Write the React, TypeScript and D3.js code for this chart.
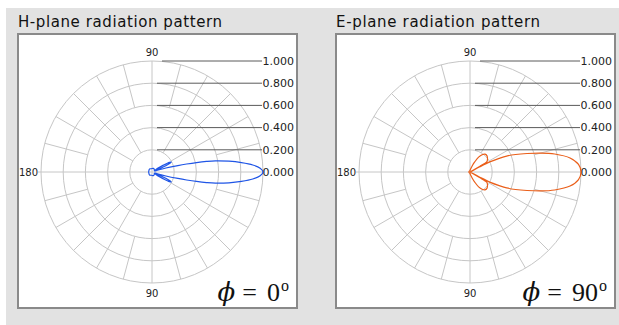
import * as d3 from 'd3';
import React from 'react';

// radial rings (normalised gain) and their labels
const ringValues = [0.2, 0.4, 0.6, 0.8, 1.0];
const ringLabels = ['0.200', '0.400', '0.600', '0.800', '1.000'];

// grid spokes: angle in degrees (ccw from 0) and the ring they start from
const spokeAngles = [15, 30, 45, 60, 75, 105, 120, 135, 150, 165, 195, 210, 225, 240, 255, 285, 300, 315, 330, 345];
const spokeStarts = [0.6, 0.2, 0.4, 0.2, 0.6, 0.6, 0.2, 0.4, 0.2, 0.6, 0.6, 0.2, 0.4, 0.2, 0.6, 0.6, 0.2, 0.4, 0.2, 0.6];

// H-plane (phi = 0) pattern
const hPlaneAngles = [-160, -130, -100, -70, -45, -35, -33, -31, -29, -27.5, -26, -24, -22, -20, -18, -16, -14, -13, -12, -11, -10, -8, -6, -4, -2, 0, 2, 4, 6, 8, 10, 11, 12, 13, 14, 16, 18, 20, 22, 24, 26, 27.5, 29, 31, 33, 35, 45, 70, 100, 130, 160, 180];
const hPlaneGain = [0.03, 0.035, 0.03, 0.035, 0.03, 0.025, 0.06, 0.12, 0.18, 0.195, 0.18, 0.12, 0.05, 0.025, 0.06, 0.13, 0.24, 0.32, 0.41, 0.5, 0.58, 0.7, 0.81, 0.91, 0.975, 1.0, 0.975, 0.91, 0.81, 0.7, 0.58, 0.5, 0.41, 0.32, 0.24, 0.13, 0.06, 0.025, 0.05, 0.12, 0.18, 0.195, 0.18, 0.12, 0.06, 0.025, 0.03, 0.035, 0.03, 0.035, 0.03, 0.03];

// E-plane (phi = 90) pattern
const ePlaneAngles = [-140, -100, -80, -70, -65, -60, -55, -50, -44, -38, -33, -31, -30, -29, -28, -27, -25, -23.5, -21, -18, -15, -12, -8, -4, 0, 4, 8, 12, 15, 18, 21, 23.5, 25, 27, 28, 29, 30, 31, 33, 38, 44, 50, 55, 60, 65, 70, 80, 100, 140, 180];
const ePlaneGain = [0.01, 0.01, 0.025, 0.06, 0.1, 0.155, 0.19, 0.21, 0.212, 0.2, 0.185, 0.175, 0.1, 0.005, 0.1, 0.2, 0.29, 0.36, 0.44, 0.54, 0.66, 0.78, 0.91, 0.98, 1.0, 0.98, 0.91, 0.78, 0.66, 0.54, 0.44, 0.36, 0.29, 0.2, 0.1, 0.005, 0.1, 0.175, 0.185, 0.2, 0.212, 0.21, 0.19, 0.155, 0.1, 0.06, 0.025, 0.01, 0.01, 0.01];

const panels = [
  { title: 'H-plane radiation pattern', phi: '0', angles: hPlaneAngles, gain: hPlaneGain, color: '#1f55e6', dx: 0 },
  { title: 'E-plane radiation pattern', phi: '90', angles: ePlaneAngles, gain: ePlaneGain, color: '#ea5f1a', dx: 318 },
];

const W = 619;
const H = 325;

function PolarPanel({ p }: { p: (typeof panels)[number] }) {
  const ref = React.useRef<SVGGElement>(null);

  React.useEffect(() => {
    if (!ref.current) return;
    const g = d3.select(ref.current);
    g.selectAll('*').remove();

    const cx = 152;
    const cy = 172;
    const R = 111;
    const r = d3.scaleLinear().domain([0, 1]).range([0, R]);
    // degrees ccw from +x  ->  d3 radial angle (clockwise from 12 o'clock)
    const a = d3.scaleLinear().domain([0, 90]).range([Math.PI / 2, 0]);

    g.append('text')
      .attr('x', 18)
      .attr('y', 27)
      .attr('font-family', 'DejaVu Sans')
      .attr('font-size', 15)
      .attr('textLength', 204)
      .attr('fill', '#111')
      .text(p.title);

    g.append('rect')
      .attr('x', 18)
      .attr('y', 34)
      .attr('width', 279)
      .attr('height', 274)
      .attr('fill', '#fff')
      .attr('stroke', '#8a8a8a')
      .attr('stroke-width', 2);

    const plot = g.append('g').attr('transform', `translate(${cx},${cy})`);
    const gridColor = '#c6c6c6';

    plot
      .selectAll('circle.ring')
      .data(ringValues)
      .enter()
      .append('circle')
      .attr('class', 'ring')
      .attr('r', (d) => r(d))
      .attr('fill', 'none')
      .attr('stroke', gridColor);

    spokeAngles.forEach((ang, i) => {
      const [x0, y0] = d3.pointRadial(a(ang), r(spokeStarts[i]));
      const [x1, y1] = d3.pointRadial(a(ang), r(1));
      plot.append('line').attr('x1', x0).attr('y1', y0).attr('x2', x1).attr('y2', y1).attr('stroke', gridColor);
    });

    // main axes
    plot.append('line').attr('x1', -R - 3).attr('x2', R + 2).attr('y1', 0).attr('y2', 0).attr('stroke', gridColor);
    plot.append('line').attr('x1', 0).attr('x2', 0).attr('y1', -R).attr('y2', R).attr('stroke', gridColor);

    // radial scale leader lines + labels
    ringValues.forEach((v, i) => {
      const y = -r(v);
      plot
        .append('line')
        .attr('x1', v === 1 ? 10 : 5)
        .attr('x2', 110)
        .attr('y1', y)
        .attr('y2', y)
        .attr('stroke', '#5a5a5a');
      plot
        .append('text')
        .attr('x', 142)
        .attr('y', y)
        .attr('dy', '0.35em')
        .attr('text-anchor', 'end')
        .attr('font-family', 'DejaVu Sans')
        .attr('font-size', 11)
        .attr('fill', '#222')
        .text(ringLabels[i]);
    });
    plot
      .append('text')
      .attr('x', 142)
      .attr('y', 0)
      .attr('dy', '0.35em')
      .attr('text-anchor', 'end')
      .attr('font-family', 'DejaVu Sans')
      .attr('font-size', 11)
      .attr('fill', '#222')
      .text('0.000');

    const angLabel = (x: number, y: number, t: string, anchor: string) =>
      plot
        .append('text')
        .attr('x', x)
        .attr('y', y)
        .attr('dy', '0.35em')
        .attr('text-anchor', anchor)
        .attr('font-family', 'DejaVu Sans')
        .attr('font-size', 10)
        .attr('fill', '#222')
        .text(t);
    angLabel(0, -R - 9, '90', 'middle');
    angLabel(0, R + 10, '90', 'middle');
    angLabel(-R - 3, 0, '180', 'end');

    // pattern
    const pts = p.angles.map((ang, i) => [ang, p.gain[i]] as [number, number]);
    const line = d3
      .lineRadial<[number, number]>()
      .angle((d) => a(d[0]))
      .radius((d) => r(d[1]))
      .curve(d3.curveCatmullRomClosed.alpha(0.5));
    plot.append('path').datum(pts).attr('fill', 'none').attr('stroke', p.color).attr('stroke-width', 1.2).attr('d', line);

    // phi annotation
    const t = g
      .append('text')
      .attr('x', 289)
      .attr('y', 301)
      .attr('text-anchor', 'end')
      .attr('font-family', 'Liberation Serif')
      .attr('font-size', 26)
      .attr('fill', '#111');
    t.append('tspan').attr('font-family', 'DejaVu Serif').attr('font-style', 'italic').text('ϕ');
    t.append('tspan').attr('dx', 7).text('=');
    t.append('tspan').attr('dx', 10).text(p.phi);
    t.append('tspan').attr('font-size', 16).attr('dx', 1).attr('dy', -10).text('o');
  }, [p]);

  return <g ref={ref} transform={`translate(${p.dx},0)`} />;
}

export default function App() {
  return (
    <svg width={W} height={H} style={{ position: 'absolute', left: 0, top: 0 }}>
      <rect x={0} y={0} width={W} height={H} fill="#fff" />
      <rect x={6} y={8} width={W - 6} height={H - 8} fill="#e2e2e2" />
      {panels.map((p) => (
        <PolarPanel key={p.title} p={p} />
      ))}
    </svg>
  );
}
